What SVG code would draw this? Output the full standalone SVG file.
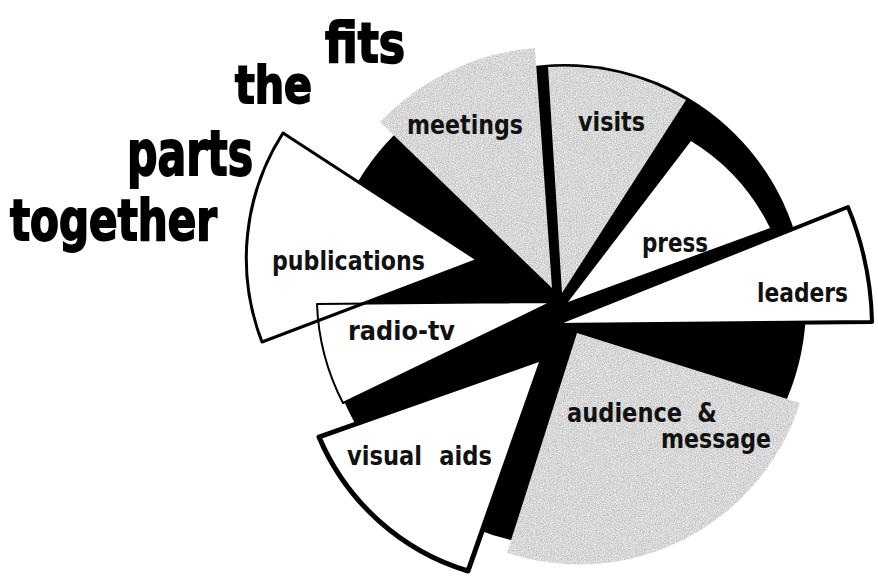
<svg xmlns="http://www.w3.org/2000/svg" width="878" height="579" viewBox="0 0 878 579">
<style>
.gray{fill:#d6d6d6;stroke:none;filter:url(#grain)}
.wht{fill:#fff;stroke:none}
.ol{fill:none;stroke:#000;stroke-linejoin:round}
.lbl{font-family:"DejaVu Sans Condensed","DejaVu Sans","Liberation Sans",sans-serif;font-weight:bold;font-size:27px;fill:#111}
.ttl{font-family:"DejaVu Sans Condensed","DejaVu Sans","Liberation Sans",sans-serif;font-weight:bold;fill:#000;stroke:#000;stroke-width:1.8}
</style>
<defs>
<filter id="grain" color-interpolation-filters="sRGB">
<feTurbulence type="fractalNoise" baseFrequency="0.85" numOctaves="2" seed="7" result="n"/>
<feColorMatrix in="n" type="saturate" values="0" result="g"/>
<feComponentTransfer in="g" result="g2">
<feFuncR type="linear" slope="0.45" intercept="0.62"/>
<feFuncG type="linear" slope="0.45" intercept="0.62"/>
<feFuncB type="linear" slope="0.45" intercept="0.62"/>
<feFuncA type="linear" slope="0" intercept="1"/>
</feComponentTransfer>
<feComposite in="g2" in2="SourceAlpha" operator="in"/>
</filter>
</defs>
<rect width="878" height="579" fill="#fff"/>
<g id="title">
<text class="ttl" x="325" y="62" font-size="56" textLength="80" lengthAdjust="spacingAndGlyphs">fits</text>
<text class="ttl" x="235" y="103" font-size="51" textLength="77" lengthAdjust="spacingAndGlyphs">the</text>
<text class="ttl" x="127" y="175" font-size="63" textLength="126" lengthAdjust="spacingAndGlyphs">parts</text>
<text class="ttl" x="10" y="240" font-size="57" textLength="207" lengthAdjust="spacingAndGlyphs">together</text>
</g>
<g id="disk"><circle cx="565" cy="305" r="241" fill="#000"/></g>
<g id="meetings">
<path class="gray" d="M552,288 L380,122 A240,240 0 0 1 535,48 Z"/>
<text class="lbl" x="407" y="134" textLength="116" lengthAdjust="spacingAndGlyphs">meetings</text>
</g>
<g id="visits">
<path class="gray" d="M562,293 L548,67 A238,238 0 0 1 686,100 Z"/>
<text class="lbl" x="578" y="131" textLength="67" lengthAdjust="spacingAndGlyphs">visits</text>
</g>
<g id="press">
<path class="wht" d="M568,302 L691,141 A210,210 0 0 1 770,228 Z"/>
<text class="lbl" x="642" y="252" textLength="66" lengthAdjust="spacingAndGlyphs">press</text>
</g>
<g id="audience">
<path class="gray" d="M577,333 L800,403 A232,232 0 0 1 507,553 Z"/>
<text class="lbl" x="567" y="422" textLength="150" lengthAdjust="spacingAndGlyphs" word-spacing="8">audience &amp;</text>
<text class="lbl" x="661" y="448" textLength="110" lengthAdjust="spacingAndGlyphs">message</text>
</g>
<g id="publications">
<path class="wht" d="M478,260 L283,133 A232,232 0 0 0 262,342 Z"/>
</g>
<g id="radio-tv">
<path class="wht" d="M552,302 L317,304 A234,234 0 0 0 343,403 Z"/>
</g>
<g id="outlines">
<path class="ol" stroke-width="3" d="M478,260 L283,133 A232,232 0 0 0 262,342 Z"/>
<path class="ol" stroke-width="2" d="M552,302 L317,304 A234,234 0 0 0 343,403 Z"/>
</g>
<text class="lbl" x="272" y="270" textLength="153" lengthAdjust="spacingAndGlyphs">publications</text>
<text class="lbl" x="348" y="340" textLength="107" lengthAdjust="spacingAndGlyphs">radio-tv</text>
<g id="visual-aids">
<path class="ol" style="fill:#fff" stroke-width="5" d="M543,358 L319,437 A236,236 0 0 0 468,571 Z"/>
<text class="lbl" x="347" y="465" textLength="145" lengthAdjust="spacingAndGlyphs" word-spacing="10">visual aids</text>
</g>
<g id="leaders">
<path class="ol" style="fill:#fff" stroke-width="4" d="M553,325 L848,207 A320,320 0 0 1 872,322 Z"/>
<text class="lbl" x="757" y="302" textLength="91" lengthAdjust="spacingAndGlyphs">leaders</text>
</g>
</svg>
